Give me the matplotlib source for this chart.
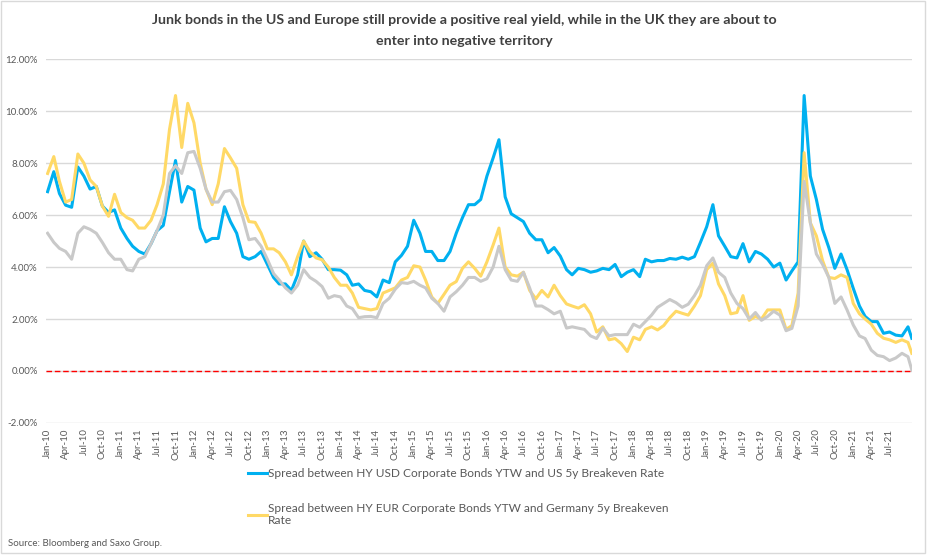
import numpy as np
import pandas as pd
import matplotlib
matplotlib.use("Agg")
import matplotlib.pyplot as plt
import matplotlib.dates as mdates
from matplotlib.ticker import FuncFormatter
from matplotlib.patches import Rectangle

plt.rcParams['font.family'] = ['Lato', 'DejaVu Sans']

# monthly observations Jan-2010 .. Oct-2021, plus the last print of the series
dates = list(pd.date_range('2010-01-01', '2021-10-01', freq='MS')) + [pd.Timestamp('2021-10-20')]
tick_dates = pd.date_range('2010-01-01', '2021-07-01', freq='QS')

# HY USD YTW minus US 5y breakeven (%)
us_spread = [
    6.9, 7.67, 6.83, 6.38, 6.3, 7.85, 7.5, 7.0, 7.1, 6.35,
    6.1, 6.2, 5.5, 5.1, 4.8, 4.6, 4.5, 4.9, 5.4, 5.6,
    6.9, 8.1, 6.5, 7.1, 6.96, 5.5, 4.97, 5.1, 5.1, 6.32,
    5.75, 5.3, 4.4, 4.3, 4.4, 4.6, 4.1, 3.6, 3.35, 3.35,
    3.1, 3.7, 5.0, 4.4, 4.55, 4.3, 3.9, 3.9, 3.88, 3.7,
    3.3, 3.35, 3.1, 3.05, 2.85, 3.5, 3.4, 4.2, 4.45, 4.8,
    5.8, 5.3, 4.6, 4.6, 4.25, 4.25, 4.6, 5.3, 5.9, 6.4,
    6.4, 6.6, 7.5, 8.2, 8.9, 6.7, 6.05, 5.9, 5.75, 5.3,
    5.05, 5.05, 4.55, 4.75, 4.42, 3.9, 3.7, 3.95, 3.9, 3.8,
    3.85, 3.95, 3.9, 4.1, 3.63, 3.8, 3.9, 3.63, 4.3, 4.2,
    4.25, 4.25, 4.33, 4.3, 4.38, 4.3, 4.4, 4.95, 5.55, 6.4,
    5.2, 4.8, 4.4, 4.35, 4.9, 4.2, 4.6, 4.5, 4.3, 4.0,
    4.15, 3.5, 3.85, 4.2, 10.6, 7.5, 6.6, 5.45, 4.75, 3.95,
    4.5, 3.9, 3.18, 2.5, 2.1, 1.9, 1.9, 1.45, 1.5, 1.38,
    1.35, 1.7, 1.26,
]

# HY EUR YTW minus Germany 5y breakeven (%)
eu_spread = [
    7.6, 8.25, 7.3, 6.5, 6.6, 8.35, 8.0, 7.35, 7.1, 6.35,
    5.95, 6.8, 6.1, 5.9, 5.8, 5.5, 5.5, 5.8, 6.4, 7.2,
    9.3, 10.6, 8.6, 10.3, 9.55, 8.0, 7.0, 6.4, 7.2, 8.56,
    8.2, 7.8, 6.4, 5.75, 5.72, 5.3, 4.7, 4.7, 4.55, 4.2,
    3.7, 4.4, 5.0, 4.6, 4.35, 4.28, 4.0, 3.6, 3.3, 3.3,
    3.0, 2.45, 2.4, 2.35, 2.4, 3.0, 3.1, 3.2, 3.5, 3.6,
    4.05, 4.0, 3.5, 2.85, 2.6, 2.95, 3.3, 3.44, 3.95, 4.2,
    3.95, 3.65, 4.2, 4.85, 5.5, 4.0, 3.7, 3.65, 3.8, 3.1,
    2.78, 3.1, 2.85, 3.3, 2.9, 2.58, 2.5, 2.42, 2.55, 2.2,
    1.5, 1.7, 1.2, 1.25, 1.05, 0.75, 1.3, 1.2, 1.6, 1.7,
    1.58, 1.75, 2.05, 2.3, 2.22, 2.15, 2.5, 2.9, 3.9, 4.15,
    3.35, 2.9, 2.2, 2.25, 2.9, 1.95, 2.1, 2.0, 2.35, 2.35,
    2.35, 1.6, 1.75, 3.0, 8.4, 5.7, 5.2, 4.25, 3.6, 3.56,
    3.7, 3.6, 2.6, 2.2, 2.0, 1.8, 1.45, 1.26, 1.2, 1.1,
    1.2, 1.1, 0.68,
]

# third (UK) series, unlabelled in the legend (%)
uk_spread = [
    5.3, 4.95, 4.72, 4.6, 4.3, 5.3, 5.55, 5.45, 5.3, 4.95,
    4.55, 4.3, 4.3, 3.9, 3.85, 4.3, 4.4, 4.9, 5.4, 6.0,
    7.6, 7.9, 7.6, 8.4, 8.45, 7.8, 7.0, 6.5, 6.5, 6.9,
    6.95, 6.6, 5.9, 5.05, 5.1, 4.8, 4.3, 3.75, 3.5, 3.2,
    3.0, 3.3, 3.9, 3.6, 3.45, 3.25, 2.8, 2.9, 2.85, 2.5,
    2.4, 2.05, 2.09, 2.1, 2.05, 2.6, 2.8, 3.15, 3.4, 3.37,
    3.45, 3.3, 3.2, 2.8, 2.6, 2.3, 2.85, 3.05, 3.3, 3.6,
    3.6, 3.45, 3.55, 4.0, 4.8, 3.9, 3.5, 3.45, 3.8, 3.2,
    2.5, 2.5, 2.36, 2.2, 2.3, 1.65, 1.7, 1.65, 1.6, 1.35,
    1.25, 1.65, 1.35, 1.4, 1.4, 1.4, 1.8, 1.68, 1.9, 2.15,
    2.45, 2.6, 2.75, 2.63, 2.45, 2.57, 2.9, 3.3, 4.05, 4.35,
    3.8, 3.6, 3.0, 2.6, 2.4, 2.0, 2.25, 1.95, 2.1, 2.3,
    2.15, 1.55, 1.64, 2.5, 7.3, 5.7, 4.5, 4.1, 3.6, 2.6,
    2.85, 2.35, 1.77, 1.35, 1.25, 0.8, 0.6, 0.55, 0.4, 0.5,
    0.68, 0.55, 0.04,
]

labels = [
    "Spread between HY USD Corporate Bonds YTW and US 5y Breakeven Rate",
    "Spread between HY EUR Corporate Bonds YTW and Germany 5y Breakeven\nRate",
]
title = ("Junk bonds in the US and Europe still provide a positive real yield, while in the UK they are about to\n"
         "enter into negative territory")

fig = plt.figure(figsize=(9.29, 5.58), dpi=100)
ax = fig.add_axes([0.0495, 0.242, 0.932, 0.652])

l1, = ax.plot(dates, us_spread, color='#00B0F0', lw=2.2, zorder=3)
l2, = ax.plot(dates, eu_spread, color='#FFD966', lw=2.2, zorder=4)
ax.plot(dates, uk_spread, color='#C9C9C9', lw=2.2, zorder=5)
ax.axhline(0, color='#FF0000', lw=1, linestyle=(0, (4, 2)), zorder=6)

ax.set_ylim(-2, 12)
ax.set_yticks(np.arange(-2, 12.1, 2))
ax.yaxis.set_major_formatter(FuncFormatter(lambda v, p: f"{v:.2f}%"))
ax.set_xlim(pd.Timestamp('2009-12-24'), pd.Timestamp('2021-10-20'))
ax.set_xticks(tick_dates)
ax.xaxis.set_major_formatter(mdates.DateFormatter('%b-%y'))
plt.setp(ax.get_xticklabels(), rotation=90)

ax.grid(axis='y', color='#D9D9D9', lw=1)
ax.set_axisbelow(True)
for s in ax.spines.values():
    s.set_visible(False)
ax.tick_params(axis='both', length=0, labelsize=7, colors='#595959')
ax.tick_params(axis='y', pad=6)
ax.tick_params(axis='x', pad=4)

fig.text(0.5, 0.945, title, ha='center', va='center', fontsize=10.2, fontweight='bold',
         color='#404040', linespacing=1.95)

ax.legend([l1, l2], labels, loc='upper left', bbox_to_anchor=(0.255, 0.181),
          bbox_transform=fig.transFigure, frameon=False, fontsize=8.6,
          handlelength=1.6, handletextpad=0.1, labelspacing=2.0,
          labelcolor='#595959')

fig.text(0.009, 0.022, "Source: Bloomberg and Saxo Group.", fontsize=7, color='#595959')

fig.add_artist(Rectangle((0.001, 0.009), 0.995, 0.989, transform=fig.transFigure,
                         fill=False, edgecolor='#D9D9D9', lw=1))

fig.savefig('out.png', dpi=100)
